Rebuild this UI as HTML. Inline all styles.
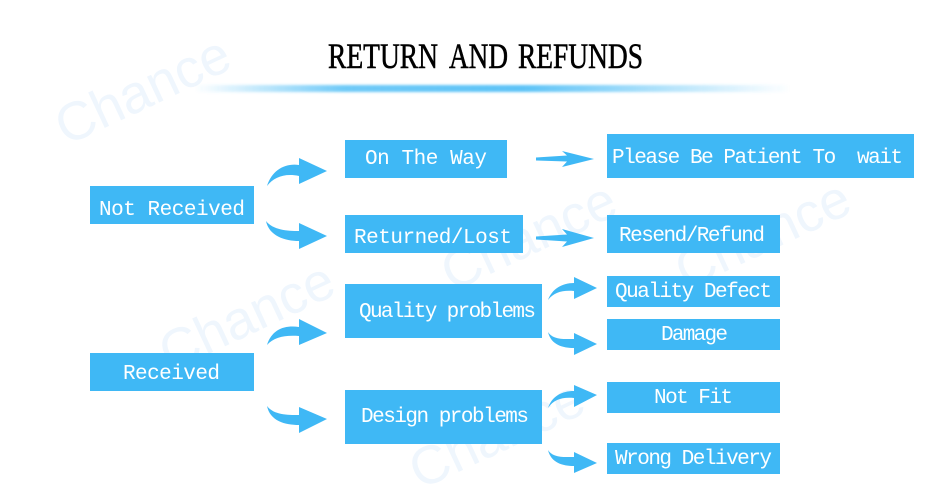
<!DOCTYPE html>
<html><head><meta charset="utf-8"><style>
html,body{margin:0;padding:0;background:#fff}
svg{display:block}
.t{font-family:"Liberation Mono",monospace;font-size:21px;fill:#fff;white-space:pre}
.w{font-family:"Liberation Sans",sans-serif;font-size:54px;fill:#eff6fd}
.h{font-family:"Liberation Serif",serif;font-size:36px;fill:#000;stroke:#000;stroke-width:.6}
</style></head><body>
<svg width="950" height="500" viewBox="0 0 950 500" xmlns="http://www.w3.org/2000/svg">
<defs>
<linearGradient id="g"><stop offset="0" stop-color="#3fb8f5" stop-opacity="0"/><stop offset=".25" stop-color="#3fb8f5" stop-opacity=".75"/><stop offset=".55" stop-color="#3fb8f5" stop-opacity=".85"/><stop offset="1" stop-color="#3fb8f5" stop-opacity="0"/></linearGradient>
<filter id="b" x="-5%" y="-100%" width="110%" height="300%"><feGaussianBlur stdDeviation="1.2"/></filter>
</defs>
<text class="w" transform="translate(66,146) rotate(-25)">Chance</text>
<text class="w" transform="translate(170,372) rotate(-25)">Chance</text>
<text class="w" transform="translate(452,292) rotate(-25)">Chance</text>
<text class="w" transform="translate(686,290) rotate(-25)">Chance</text>
<text class="w" transform="translate(420,490) rotate(-25)">Chance</text>
<text class="h" x="328" y="68" textLength="110" lengthAdjust="spacingAndGlyphs">RETURN</text>
<text class="h" x="449" y="68" textLength="59" lengthAdjust="spacingAndGlyphs">AND</text>
<text class="h" x="518" y="68" textLength="125" lengthAdjust="spacingAndGlyphs">REFUNDS</text>
<rect x="195" y="85" width="595" height="7" fill="url(#g)" filter="url(#b)"/>
<g fill="#3fb8f5">
<rect x="90" y="186" width="164" height="38"/>
<rect x="345" y="140" width="162" height="38"/>
<rect x="345" y="215" width="178" height="38"/>
<rect x="607" y="134" width="307" height="44"/>
<rect x="607" y="215" width="173" height="38"/>
<rect x="345" y="284" width="197" height="54"/>
<rect x="607" y="276" width="173" height="31"/>
<rect x="607" y="319" width="173" height="31"/>
<rect x="90" y="353" width="164" height="38"/>
<rect x="345" y="390" width="197" height="54"/>
<rect x="607" y="382" width="173" height="31"/>
<rect x="607" y="443" width="173" height="31"/>
<path d="M267,186C272,170 285,163 299,165L299,158L327,171L299,184L299,176C285,173 274,177 267,186Z"/>
<path d="M266,221C273,230 287,231 299,231L299,223L327,236L299,249L299,241C285,241 269,236 266,221Z"/>
<path d="M267,345C272,329 285,325 299,327L299,319L327,333L299,345L299,336C285,335 274,337 267,345Z"/>
<path d="M267,406C274,415 287,415 299,415L299,407L327,419L299,433L299,425C285,425 270,421 267,406Z"/>
<path d="M536,157.5L567,155.5L562,151L594,159L562,167L567,161.5L536,160.5Z"/>
<path d="M536,236.5L567,234.5L562,229L594,238L562,247L567,241.5L536,239.5Z"/>
<path d="M548,300C552,289 562,283 574,283L574,277L597,288L574,299L574,291C563,290 554,292 548,300Z"/>
<path d="M548,332C553,340 564,339 574,339L574,333L597,344L574,355L574,348C563,348 551,345 548,332Z"/>
<path d="M548,408C552,396 562,391 574,391L574,385L597,395L574,407L574,398C563,397 554,399 548,408Z"/>
<path d="M548,450C553,458 564,457 574,457L574,452L597,463L574,473L574,466C563,466 551,463 548,450Z"/>
</g>
<text class="t" x="99" y="215" textLength="146">Not Received</text>
<text class="t" x="365" y="164" textLength="122">On The Way</text>
<text class="t" x="354" y="243" textLength="158">Returned/Lost</text>
<text class="t" x="612" y="163" textLength="291" xml:space="preserve">Please Be Patient To  wait</text>
<text class="t" x="619" y="241" textLength="146">Resend/Refund</text>
<text class="t" x="359" y="317" textLength="177">Quality problems</text>
<text class="t" x="615" y="297" textLength="157">Quality Defect</text>
<text class="t" x="661" y="340" textLength="67">Damage</text>
<text class="t" x="123" y="379" textLength="97">Received</text>
<text class="t" x="361" y="422" textLength="168">Design problems</text>
<text class="t" x="654" y="403" textLength="79">Not Fit</text>
<text class="t" x="615" y="464" textLength="157">Wrong Delivery</text>
</svg>
</body></html>
